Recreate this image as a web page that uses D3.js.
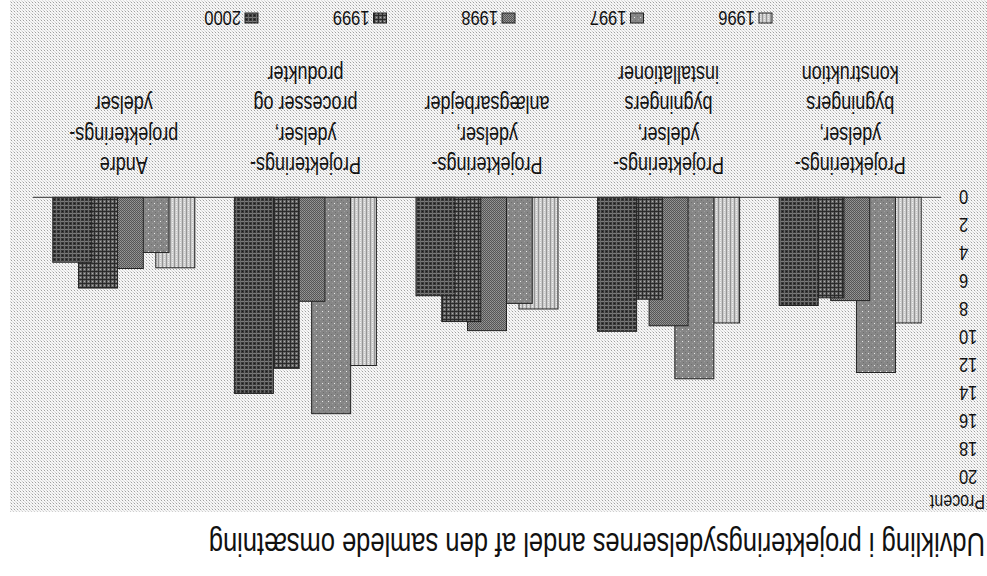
<!DOCTYPE html>
<html>
<head>
<meta charset="utf-8">
<script src="https://cdn.jsdelivr.net/npm/d3@7"></script>
<style>
  html, body { margin: 0; padding: 0; background: #ffffff; }
  svg { display: block; }
  text { font-family: "Liberation Sans", Arial, sans-serif; fill: #111111; }
</style>
</head>
<body>
<script>
// ---- data ----
const title = "Udvikling i projekteringsydelsernes andel af den samlede omsætning";
const yAxisLabel = "Procent";
const categories = [
  ["Projekterings-", "ydelser,", "bygningers", "konstruktion"],
  ["Projekterings-", "ydelser,", "bygningers", "installationer"],
  ["Projekterings-", "ydelser,", "anlægsarbejder"],
  ["Projekterings-", "ydelser,", "processer og", "produkter"],
  ["Andre", "projekterings-", "ydelser"]
];
const years = ["1996", "1997", "1998", "1999", "2000"];
const values1996 = [9.0, 9.0, 8.0, 12.05, 5.05];
const values1997 = [12.55, 13.0, 7.6, 15.5, 3.95];
const values1998 = [7.4, 9.2, 9.55, 7.45, 5.1];
const values1999 = [7.2, 7.3, 8.9, 12.25, 6.5];
const values2000 = [7.75, 9.6, 7.05, 14.05, 4.65];
const seriesValues = [values1996, values1997, values1998, values1999, values2000];
const yTicks = [0, 2, 4, 6, 8, 10, 12, 14, 16, 18, 20];

// ---- layout (drawn upright, then the whole picture is turned 180 degrees) ----
const W = 987, H = 576;
const SY = 1.28; // vertical stretch of the lettering
const plot = { left: 46, right: 954, top: 99.5, bottom: 378.7 };
const barW = 39;

const svg = d3.select("body").append("svg").attr("width", W).attr("height", H);
const defs = svg.append("defs");

function pat(id, size, bg, draw) {
  const p = defs.append("pattern").attr("id", id).attr("patternUnits", "userSpaceOnUse")
    .attr("width", size).attr("height", size);
  p.append("rect").attr("width", size).attr("height", size).attr("fill", bg);
  draw(p);
}
function px(p, x, y, c, w = 1, h = 1) {
  p.append("rect").attr("x", x).attr("y", y).attr("width", w).attr("height", h).attr("fill", c);
}
// background dots
pat("bgPat", 3, "#f7f7f7", p => { px(p, 0, 0, "#a0a0a0"); px(p, 1, 1, "#d0d0d0"); px(p, 2, 2, "#e0e0e0"); });
// 1996 light, vertical stripes
pat("p1996", 4, "#cbcbcb", p => { px(p, 0, 0, "#959595", 1, 4); px(p, 2, 1, "#f2f2f2"); px(p, 2, 3, "#e6e6e6"); });
// 1997 medium grey with white dots
pat("p1997", 6, "#878787", p => { px(p, 1, 1, "#707070"); px(p, 3, 3, "#707070"); px(p, 4, 0, "#e8e8e8"); px(p, 0, 4, "#a0a0a0"); });
// 1998 checker
pat("p1998", 2, "#555555", p => { px(p, 0, 0, "#989898"); px(p, 1, 1, "#888888"); });
// 1999 plaid
pat("p1999", 4, "#686868", p => { px(p, 0, 0, "#2a2a2a", 4, 1); px(p, 0, 0, "#2a2a2a", 1, 4); px(p, 2, 2, "#b0b0b0"); });
// 2000 dark plaid
pat("p2000", 4, "#383838", p => { px(p, 0, 2, "#7a7a7a", 4, 1); px(p, 2, 0, "#6a6a6a", 1, 4); px(p, 0, 0, "#181818"); });

const fills = ["url(#p1996)", "url(#p1997)", "url(#p1998)", "url(#p1999)", "url(#p2000)"];

const root = svg.append("g").attr("transform", `rotate(180 ${W / 2} ${H / 2})`);

// background
root.append("rect").attr("x", 0).attr("y", 64).attr("width", 977).attr("height", H - 64)
  .attr("fill", "url(#bgPat)");

// scales
const x0 = d3.scaleBand().domain(d3.range(categories.length))
  .range([plot.left, plot.right]).paddingInner(0.218).paddingOuter(0.109);
const x1 = d3.scalePoint().domain(years).range([0, x0.bandwidth() - barW]);
const y = d3.scaleLinear().domain([0, 20]).range([plot.bottom, plot.top]);

function stext(sel, x, yy, str, anchor, size, weight) {
  return sel.append("text")
    .attr("transform", `translate(${x},${yy}) scale(1,${SY})`)
    .attr("text-anchor", anchor || "start")
    .attr("font-size", size)
    .attr("font-weight", weight || "normal")
    .text(str);
}

// bars (1996 first, 2000 last on top)
years.forEach((yr, si) => {
  root.append("g").selectAll("rect")
    .data(seriesValues[si])
    .join("rect")
    .attr("x", (d, i) => x0(i) + x1(yr))
    .attr("y", d => y(d))
    .attr("width", barW)
    .attr("height", d => y(0) - y(d))
    .attr("fill", fills[si])
    .attr("stroke", "#222222")
    .attr("stroke-width", 1);
});

// zero line
root.append("line").attr("x1", plot.left).attr("x2", plot.right)
  .attr("y1", y(0)).attr("y2", y(0)).attr("stroke", "#333333").attr("stroke-width", 1);

// y tick labels
const yAxis = root.append("g");
yTicks.forEach(t => stext(yAxis, 28, y(t) + 7, String(t), "end", 16.5));
stext(root, 2, 81, yAxisLabel, "start", 16);

// category labels
categories.forEach((lines, i) => {
  const cx = x0(i) + x0.bandwidth() / 2;
  lines.forEach((ln, k) => stext(root, cx, 419 + k * 30.5, ln, "middle", 18));
});

// legend
const lg = root.append("g");
years.forEach((yr, i) => {
  const lx = 215 + i * 128.5;
  lg.append("rect").attr("x", lx).attr("y", 553).attr("width", 13).attr("height", 10)
    .attr("fill", fills[i]).attr("stroke", "#222222").attr("stroke-width", 1);
  stext(lg, lx + 17, 565.5, yr, "start", 16.5);
});

// title
stext(root, 2, 43, title, "start", 25.5, "normal");
</script>
</body>
</html>
